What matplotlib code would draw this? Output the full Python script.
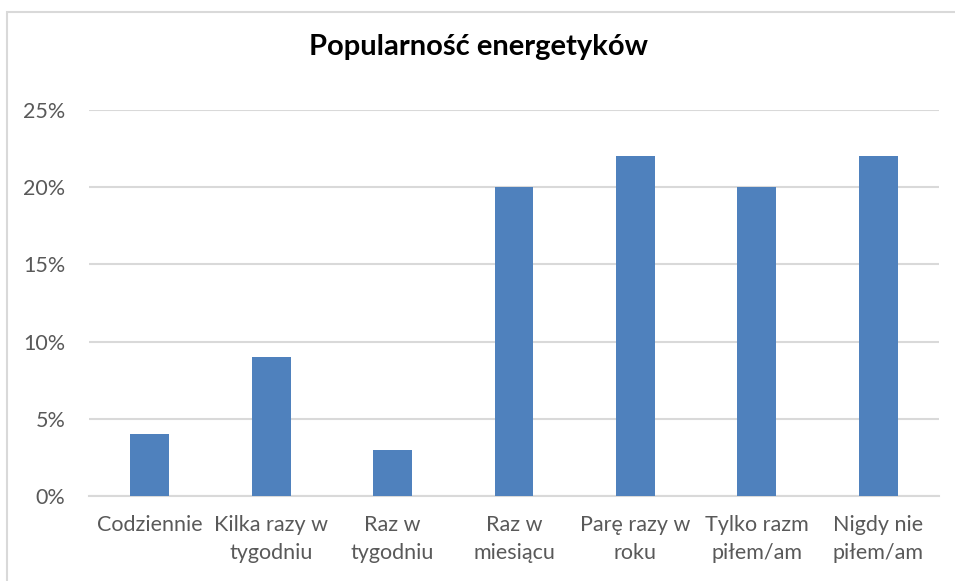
import matplotlib
matplotlib.use("Agg")
import matplotlib.pyplot as plt
from matplotlib.patches import Rectangle
from matplotlib.ticker import PercentFormatter

plt.rcParams['font.family'] = ['Lato', 'DejaVu Sans']

categories = ["Codziennie", "Kilka razy w\ntygodniu", "Raz w\ntygodniu", "Raz w\nmiesiącu",
              "Parę razy w\nroku", "Tylko razm\npiłem/am", "Nigdy nie\npiłem/am"]
values = [0.04, 0.09, 0.03, 0.20, 0.22, 0.20, 0.22]
yticks = [0, 0.05, 0.10, 0.15, 0.20, 0.25]
title = "Popularność energetyków"

fig = plt.figure(figsize=(9.55, 5.81), dpi=100)
ax = fig.add_axes([89/955, 1-496/581, (939-89)/955, (496-110)/581])

x = list(range(len(categories)))
ax.bar(x, values, width=0.32, color="#4F81BD", zorder=3)
ax.set_xlim(-0.5, len(categories)-0.5)
ax.set_ylim(0, 0.25)
ax.set_yticks(yticks)
ax.yaxis.set_major_formatter(PercentFormatter(1.0, decimals=0))
ax.set_xticks(x)
ax.set_xticklabels(categories, fontsize=15.5, color="#595959", linespacing=1.5)
ax.tick_params(axis='y', labelsize=15.5, labelcolor="#595959", length=0, pad=17)
ax.tick_params(axis='x', length=0, pad=14)
ax.grid(axis='y', color="#d9d9d9", linewidth=1.5, zorder=0)
for s in ["top", "right", "left"]:
    ax.spines[s].set_visible(False)
ax.spines["bottom"].set_color("#d9d9d9")
ax.spines["bottom"].set_linewidth(1.5)

fig.text(478/955, 1-47/581, title, ha="center", va="center", fontsize=21,
         fontweight="bold", color="black")

fig.patches.append(Rectangle((7/955, -0.05), 1.2, 1-12/581+0.05, transform=fig.transFigure,
                             fill=False, edgecolor="#d9d9d9", linewidth=1.5))

fig.savefig("out.png", dpi=100)
